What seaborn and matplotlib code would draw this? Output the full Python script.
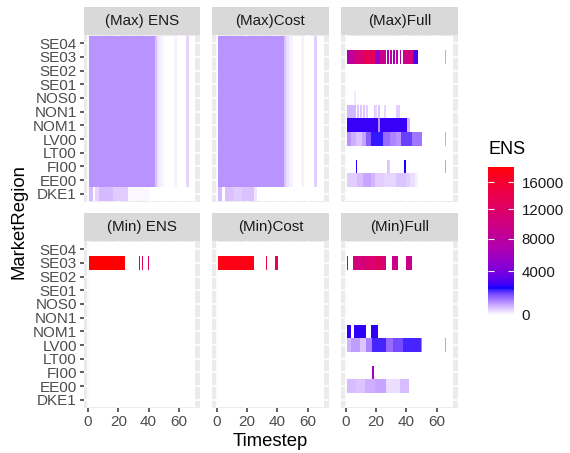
import numpy as np
import pandas as pd
import matplotlib
matplotlib.use("Agg")
import matplotlib.pyplot as plt
from matplotlib.colors import ListedColormap, PowerNorm
from matplotlib.cm import ScalarMappable
import seaborn as sns

# ---------------- data ----------------
regions = ["SE04", "SE03", "SE02", "SE01", "NOS0", "NON1", "NOM1",
           "LV00", "LT00", "FI00", "EE00", "DKE1"]
timesteps = list(range(1, 71))
facet_titles = ["(Max) ENS", "(Max)Cost", "(Max)Full",
                "(Min) ENS", "(Min)Cost", "(Min)Full"]
x_ticks = [0, 20, 40, 60]
legend_ticks = [0, 4000, 8000, 12000, 16000]
ens_top = 18300

# runs: (first timestep, last timestep, ENS)
max_ens_bulk = [(1, 44, 850), (45, 45, 420), (46, 46, 220), (47, 48, 110),
                (49, 50, 45), (57, 58, 60), (65, 66, 260)]
max_ens_dke1 = [(1, 3, 480), (5, 7, 260), (8, 16, 470), (17, 26, 320), (27, 40, 35)]

max_cost_bulk = [(1, 44, 850), (45, 45, 400), (46, 47, 200), (48, 50, 80),
                 (56, 57, 60), (65, 66, 300)]
max_cost_dke1 = [(1, 3, 470), (6, 11, 420), (12, 16, 330), (17, 24, 400), (25, 26, 150)]

max_full = {
    "SE03": [(1, 2, 6500), (3, 6, 8500), (7, 11, 11000), (12, 19, 13000), (20, 22, 5200),
             (23, 26, 9500), (28, 28, 6500), (30, 30, 8000), (32, 32, 6000), (34, 34, 8000),
             (36, 36, 7000), (38, 40, 9500), (41, 44, 10500), (45, 47, 2800), (66, 66, 700)],
    "NOS0": [(6, 6, 120)],
    "NON1": [(1, 6, 500), (8, 8, 380), (10, 10, 380), (12, 12, 380), (14, 14, 300),
             (19, 19, 380), (20, 20, 250), (22, 22, 380), (26, 26, 250), (34, 35, 300)],
    "NOM1": [(1, 21, 2500), (22, 22, 900), (23, 40, 2500), (41, 42, 500)],
    "LV00": [(1, 3, 830), (4, 6, 590), (7, 10, 380), (11, 13, 670), (14, 16, 1400),
             (17, 24, 2050), (25, 29, 1240), (30, 33, 990), (34, 36, 830), (37, 43, 1700),
             (44, 50, 1150), (66, 66, 670)],
    "FI00": [(7, 7, 2300), (28, 28, 380), (29, 29, 300), (39, 39, 2200), (66, 66, 750)],
    "EE00": [(1, 7, 310), (8, 11, 450), (12, 16, 670), (17, 19, 520), (20, 25, 310),
             (26, 33, 250), (34, 39, 380), (40, 42, 300), (43, 45, 190), (46, 47, 80)],
}
min_ens = {"SE03": [(1, 1, 15500), (2, 24, 18300), (34, 34, 12500), (36, 36, 13000),
                    (40, 40, 12000)]}
min_cost = {"SE03": [(1, 24, 17600), (33, 33, 15000), (39, 40, 14000)]}
min_full = {
    "SE03": [(1, 1, 9000), (5, 13, 10500), (14, 20, 11500), (21, 23, 13000),
             (24, 26, 10500), (31, 34, 9500), (40, 43, 9500)],
    "NOM1": [(1, 3, 2400), (6, 13, 2400), (17, 21, 2400)],
    "LV00": [(1, 3, 520), (4, 9, 750), (10, 13, 380), (14, 17, 990), (18, 26, 1950),
             (27, 31, 1240), (32, 37, 1590), (38, 49, 1950), (50, 50, 990), (66, 66, 750)],
    "FI00": [(18, 18, 6000)],
    "EE00": [(1, 6, 450), (7, 12, 380), (13, 19, 590), (20, 26, 670), (27, 35, 190),
             (36, 41, 450)],
}


def expand(runs_by_region):
    grid = pd.DataFrame(0.0, index=regions, columns=timesteps)
    for reg, runs in runs_by_region.items():
        for a, b, v in runs:
            grid.loc[reg, a:b] = v
    return grid


max_ens = {r: max_ens_bulk for r in regions[:11]}
max_ens["DKE1"] = max_ens_dke1
max_cost = {r: max_cost_bulk for r in regions[:11]}
max_cost["DKE1"] = max_cost_dke1
facet_data = [expand(d) for d in (max_ens, max_cost, max_full, min_ens, min_cost, min_full)]

# ---------------- colour scale (Lab interpolation, like ggplot) ----------------
M = np.array([[0.4124564, 0.3575761, 0.1804375],
              [0.2126729, 0.7151522, 0.0721750],
              [0.0193339, 0.1191920, 0.9503041]])
Minv = np.linalg.inv(M)
WP = np.array([0.95047, 1.0, 1.08883])


def srgb_to_lab(c):
    c = np.asarray(c, float)
    lin = np.where(c <= 0.04045, c / 12.92, ((c + 0.055) / 1.055) ** 2.4)
    t = (M @ lin) / WP
    f = np.where(t > (6 / 29) ** 3, np.cbrt(t), t / (3 * (6 / 29) ** 2) + 4 / 29)
    return np.array([116 * f[1] - 16, 500 * (f[0] - f[1]), 200 * (f[1] - f[2])])


def lab_to_srgb(lab):
    L, a, b = lab
    fy = (L + 16) / 116
    f = np.array([fy + a / 500, fy, fy - b / 200])
    t = np.where(f > 6 / 29, f ** 3, 3 * (6 / 29) ** 2 * (f - 4 / 29))
    lin = np.clip(Minv @ (t * WP), 0, 1)
    c = np.where(lin <= 0.0031308, 12.92 * lin, 1.055 * lin ** (1 / 2.4) - 0.055)
    return np.clip(c, 0, 1)


stops = [(0.0, (1, 1, 1)), (0.18, (0, 0, 1)), (1.0, (1, 0, 0))]
cols = []
for n in np.linspace(0, 1, 512):
    for (p0, c0), (p1, c1) in zip(stops[:-1], stops[1:]):
        if p0 <= n <= p1:
            t = (n - p0) / (p1 - p0)
            lab = srgb_to_lab(c0) * (1 - t) + srgb_to_lab(c1) * t
            cols.append(lab_to_srgb(lab))
            break
cmap = ListedColormap(np.array(cols))
norm = PowerNorm(gamma=0.8, vmin=0, vmax=ens_top)

# ---------------- figure ----------------
plt.rcParams["font.family"] = ["Liberation Sans", "DejaVu Sans"]
W, H = 570, 453
fig = plt.figure(figsize=(W / 100, H / 100), dpi=100)
fig.patch.set_facecolor("white")


def rect(x0, y0, x1, y1):
    return [x0 / W, 1 - y1 / H, (x1 - x0) / W, (y1 - y0) / H]


col_x = [(83.5, 200.0), (212.2, 328.8), (341.2, 457.8)]
row_y = [((7.3, 35.0), (35.0, 202.0)), ((213.3, 241.0), (241.0, 408.0))]

for k, (title, df) in enumerate(zip(facet_titles, facet_data)):
    r, c = divmod(k, 3)
    x0, x1 = col_x[c]
    (s0, s1), (p0, p1) = row_y[r]
    ax = fig.add_axes(rect(x0, p0, x1, p1))
    sns.heatmap(df, ax=ax, cmap=cmap, norm=norm, cbar=False,
                xticklabels=False, yticklabels=False, linewidths=0)
    ax.set_facecolor("#EBEBEB")
    ax.set_axisbelow(True)
    ax.set_xlim(-3.5, 73.5)
    ax.set_ylim(len(regions) + 0.1, -0.1)
    ax.set_xticks([t - 0.5 for t in x_ticks])
    ax.set_xticks([t - 0.5 for t in (10, 30, 50, 70)], minor=True)
    ax.set_yticks(np.arange(len(regions)) + 0.5)
    ax.grid(which="major", color="white", lw=1.2)
    ax.grid(which="minor", axis="x", color="white", lw=0.6)
    ax.set_xlabel("")
    ax.set_ylabel("")
    for sp in ax.spines.values():
        sp.set_visible(False)
    ax.tick_params(which="minor", length=0)
    ax.tick_params(which="major", color="#333333", width=1.1, length=3.2,
                   labelsize=11, labelcolor="#4D4D4D", pad=1.5)
    if c == 0:
        ax.set_yticklabels(regions)
    else:
        ax.tick_params(axis="y", length=0, labelleft=False)
    if r == 1:
        ax.set_xticklabels([str(t) for t in x_ticks])
    else:
        ax.tick_params(axis="x", length=0, labelbottom=False)
    ax.tick_params(axis="y", rotation=0)

    sax = fig.add_axes(rect(x0, s0, x1, s1))
    sax.set_facecolor("#D9D9D9")
    sax.set_xticks([])
    sax.set_yticks([])
    for sp in sax.spines.values():
        sp.set_visible(False)
    sax.text(0.5, 0.5, title, ha="center", va="center", fontsize=10.9,
             color="#1A1A1A", transform=sax.transAxes)

fig.text(270.6 / W, 1 - 441.5 / H, "Timestep", ha="center", va="center", fontsize=13.3)
fig.text(19 / W, 1 - 221.5 / H, "MarketRegion", ha="center", va="center",
         rotation=90, fontsize=13.3)

# colour bar legend
cax = fig.add_axes(rect(488, 167, 514, 315))
cb = fig.colorbar(ScalarMappable(norm=norm, cmap=cmap), cax=cax)
cb.outline.set_visible(False)
cb.set_ticks(legend_ticks)
cb.set_ticklabels([str(t) for t in legend_ticks])
cax.tick_params(left=True, right=True, direction="in", color="white", width=0.8,
                length=4, labelsize=10.8, labelcolor="#1A1A1A", pad=5.5)
fig.text(488 / W, 1 - 150 / H, "ENS", ha="left", va="center", fontsize=13)

fig.savefig("out.png", dpi=100)
